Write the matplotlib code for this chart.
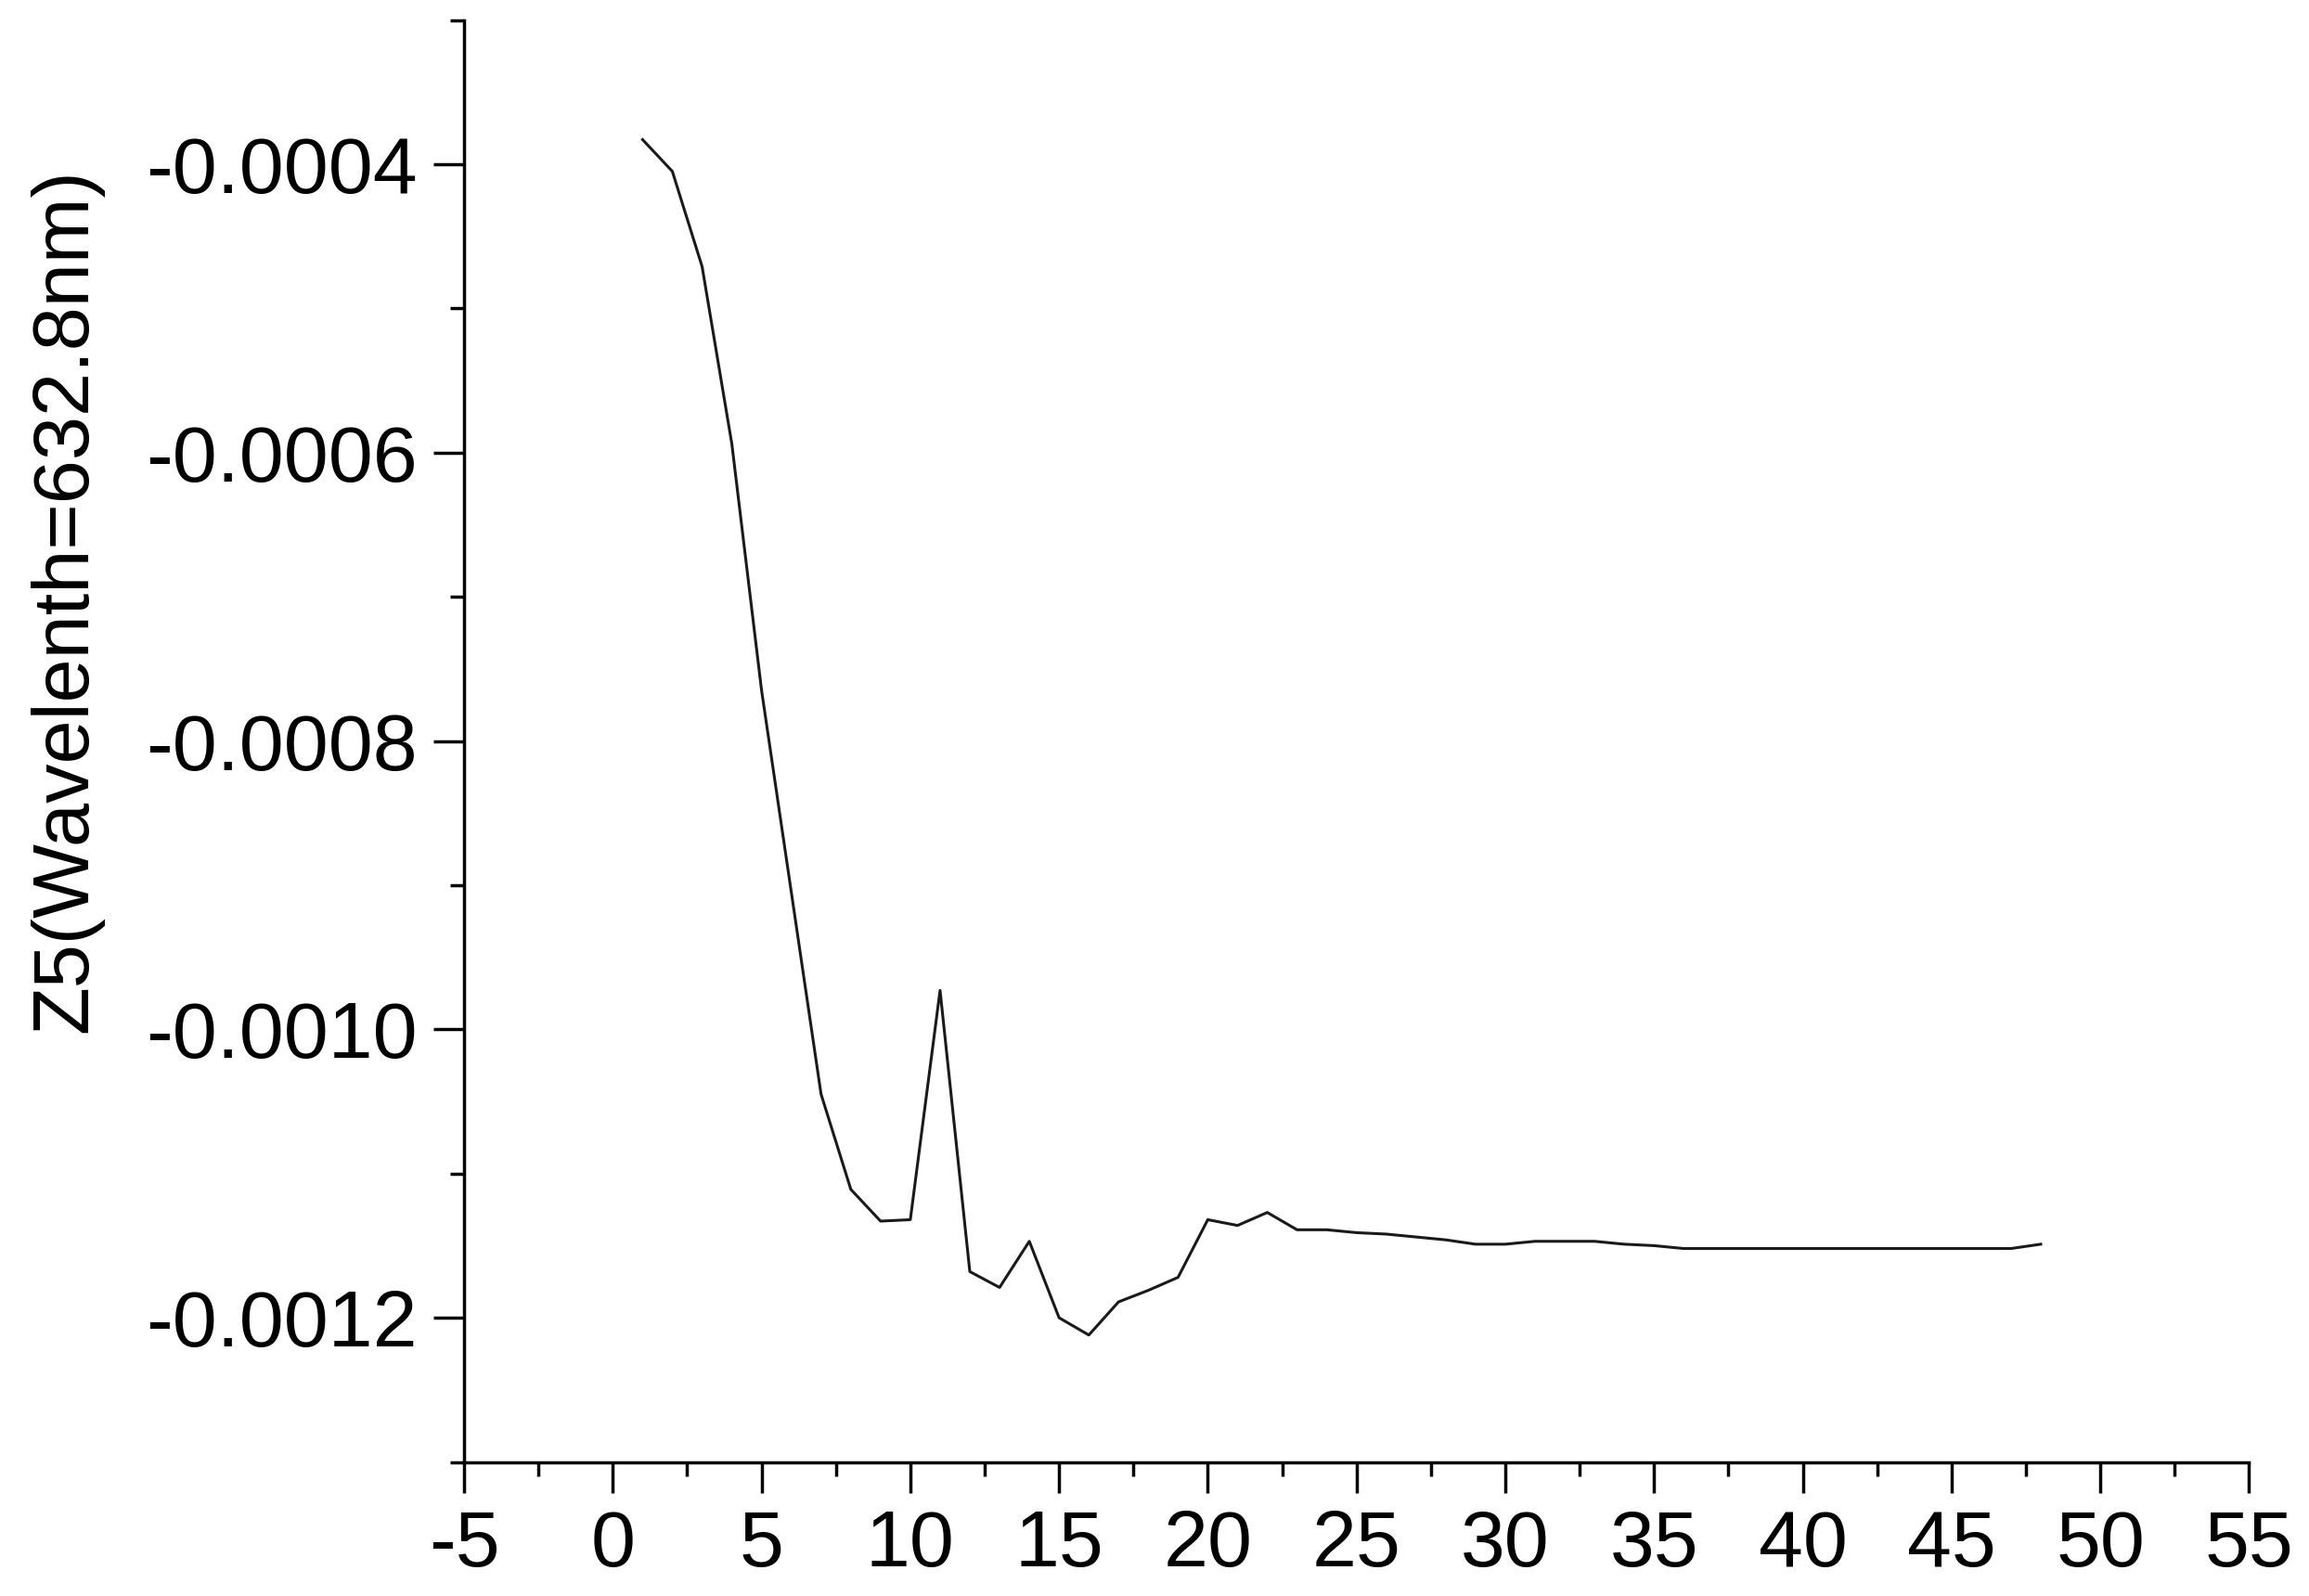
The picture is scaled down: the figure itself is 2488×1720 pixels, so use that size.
import matplotlib
matplotlib.use('Agg')
import matplotlib.pyplot as plt
from matplotlib.ticker import MultipleLocator, FormatStrFormatter

plt.rcParams['font.family'] = ['Liberation Sans', 'DejaVu Sans']
plt.rcParams['axes.unicode_minus'] = False

# Z5 coefficient vs. index
x_vals = list(range(1, 49))
z5 = [-0.000383, -0.000405, -0.000471, -0.000594, -0.000765, -0.000905,
      -0.001045, -0.001111, -0.001133, -0.001132, -0.000973, -0.001168,
      -0.001179, -0.001147, -0.001200, -0.001212, -0.001189, -0.001181,
      -0.001172, -0.001132, -0.001136, -0.001127, -0.001139, -0.001139,
      -0.001141, -0.001142, -0.001144, -0.001146, -0.001149, -0.001149,
      -0.001147, -0.001147, -0.001147, -0.001149, -0.001150, -0.001152,
      -0.001152, -0.001152, -0.001152, -0.001152, -0.001152, -0.001152,
      -0.001152, -0.001152, -0.001152, -0.001152, -0.001152, -0.001149]
y_label = 'Z5(Wavelenth=632.8nm)'

fig = plt.figure(figsize=(24.88, 17.2), dpi=100)
ax = fig.add_axes([0.201, 0.084, 0.773, 0.9035])

ax.plot(x_vals, z5, color='#1a1a1a', lw=2.2)

ax.set_xlim(-5, 55)
ax.set_ylim(-0.0013, -0.0003)
ax.xaxis.set_major_locator(MultipleLocator(5))
ax.xaxis.set_minor_locator(MultipleLocator(2.5))
ax.yaxis.set_major_locator(MultipleLocator(0.0002))
ax.yaxis.set_minor_locator(MultipleLocator(0.0001))
ax.xaxis.set_major_formatter(FormatStrFormatter('%d'))
ax.yaxis.set_major_formatter(FormatStrFormatter('%.4f'))

for side in ['top', 'right']:
    ax.spines[side].set_visible(False)
for side in ['left', 'bottom']:
    ax.spines[side].set_linewidth(2.5)

ax.tick_params(which='major', direction='out', length=24, width=2.5,
               labelsize=62, pad=12)
ax.tick_params(which='minor', direction='out', length=11, width=2.5)

fig.text(0.0285, 0.624, y_label, rotation=90, fontsize=61,
         ha='center', va='center')

fig.savefig('out.png', dpi=100, facecolor='white')
